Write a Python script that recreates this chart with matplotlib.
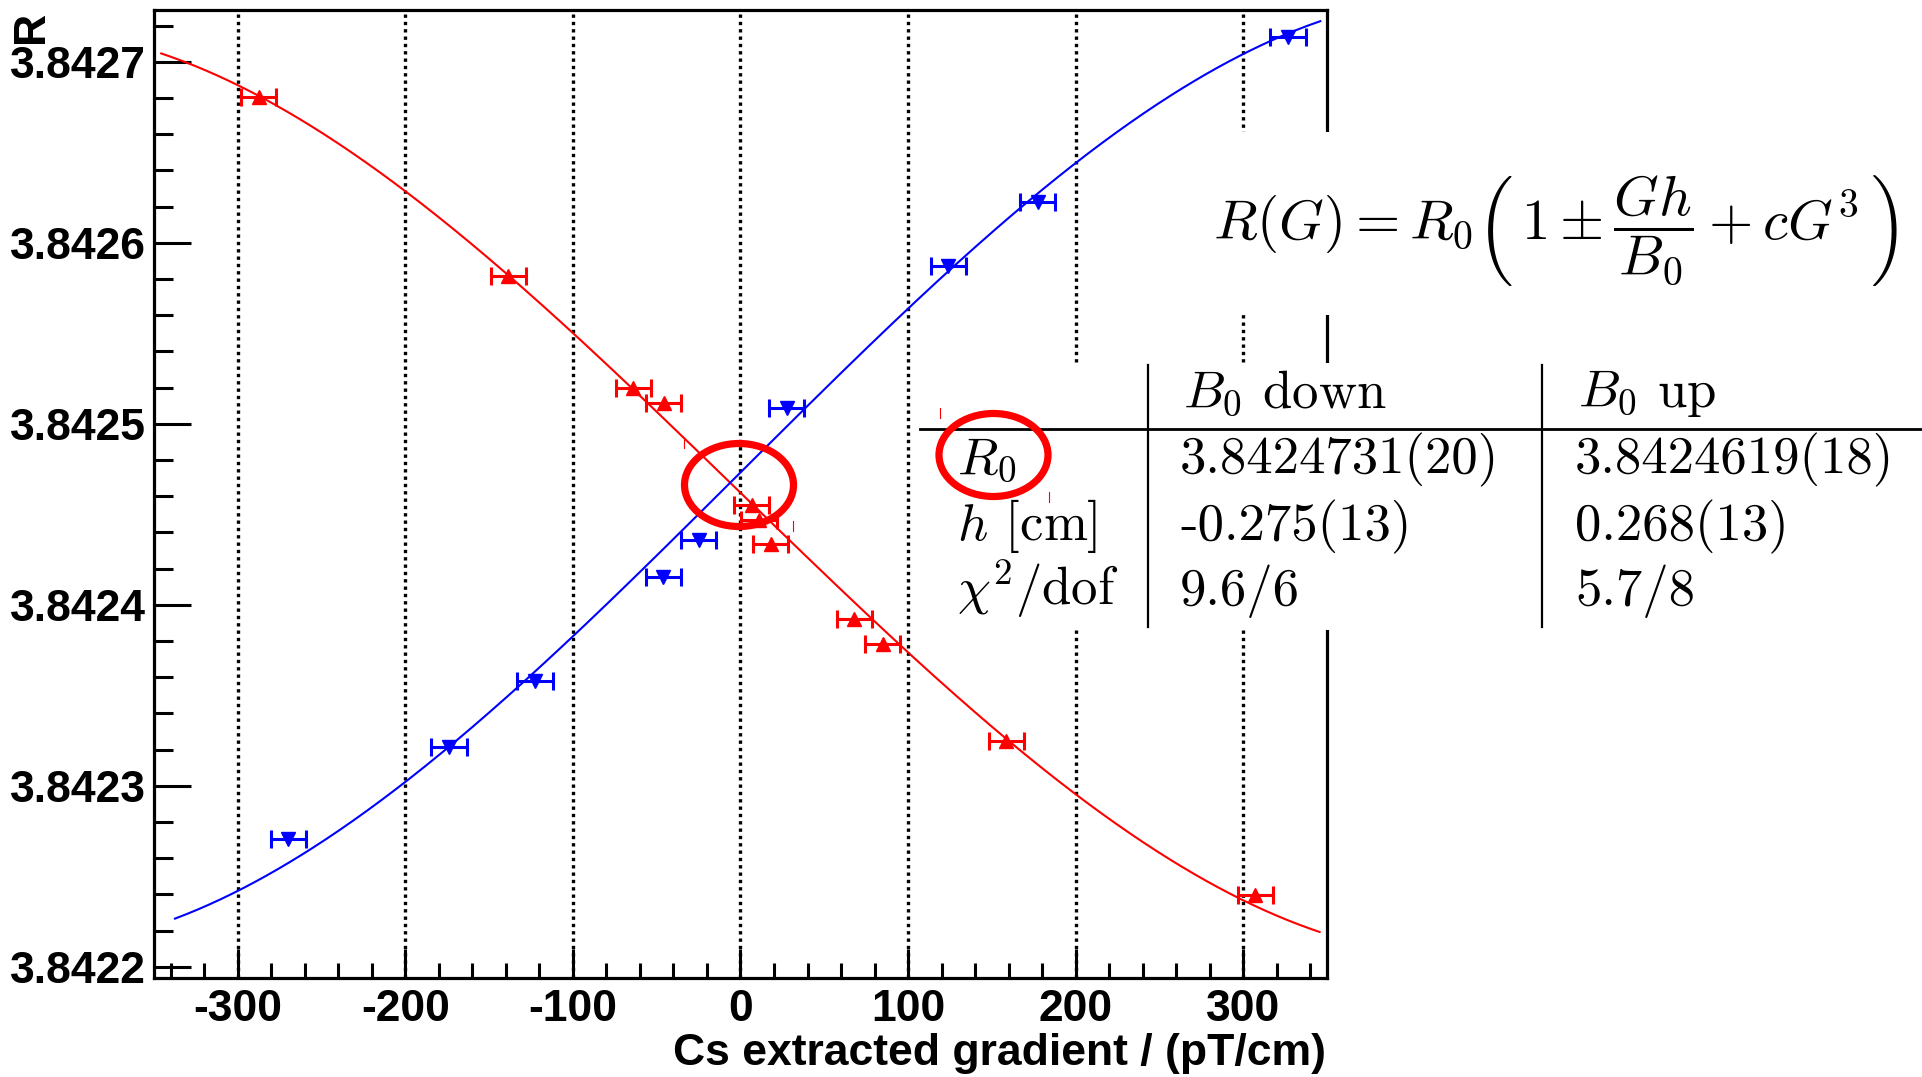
import matplotlib
matplotlib.use("Agg")
import numpy as np
import matplotlib.pyplot as plt
from matplotlib.patches import Ellipse, Rectangle
from matplotlib.lines import Line2D
from matplotlib.ticker import FixedLocator, FixedFormatter

plt.rcParams['mathtext.fontset'] = 'cm'

# ---------------- data ----------------
# B0 up (red, triangles up)
up_G = [-287.4, -138.5, -63.9, -45.8, 6.7, 11.0, 18.1, 67.8, 84.9, 158.5, 307.2]
up_R = [3.8426807, 3.8425818, 3.8425199, 3.8425113, 3.8424551, 3.8424470,
        3.8424335, 3.8423919, 3.8423781, 3.8423249, 3.8422396]
up_Gerr = [10.5] * len(up_G)

# B0 down (blue, triangles down)
down_G = [-269.9, -173.9, -122.6, -46.0, -24.9, 27.6, 124.1, 177.4, 326.7]
down_R = [3.8422704, 3.8423215, 3.8423578, 3.8424155, 3.8424357, 3.8425085,
          3.8425873, 3.8426227, 3.8427138]
down_Gerr = [10.5] * len(down_G)

# fit parameters: R(G) = R0 (1 - G h / B0 + c G^3)
B0_pT = 1.146e6
fit_down = dict(R0=3.8424731, h=-0.275, c=-4.38e-13, G_range=(-337.5, 346.0))
fit_up = dict(R0=3.8424619, h=0.268, c=4.28e-13, G_range=(-345.7, 345.6))

# axes
x_major = [-300, -200, -100, 0, 100, 200, 300]
x_labels = ["-300", "-200", "-100", "0", "100", "200", "300"]
y_major = [3.8422, 3.8423, 3.8424, 3.8425, 3.8426, 3.8427]
y_labels = ["3.8422", "3.8423", "3.8424", "3.8425", "3.8426", "3.8427"]
x_title = "Cs extracted gradient / (pT/cm)"
y_title = "R"

# table
tbl_header = [r"$B_0$ down", r"$B_0$ up"]
tbl_rows = [r"$R_0$", r"$h$ [cm]", r"$\chi^2$/dof"]
tbl_down = ["3.8424731(20)", "-0.275(13)", "9.6/6"]
tbl_up = ["3.8424619(18)", "0.268(13)", "5.7/8"]
formula = r"$R(G) = R_0\left(\,1 \pm \dfrac{Gh}{B_0} + cG^3\,\right)$"

# ---------------- figure ----------------
W, H = 1922, 1077
fig = plt.figure(figsize=(W / 100, H / 100), dpi=100)
fig.patch.set_facecolor("white")


def fx(px):
    return px / W


def fy(py):
    return 1 - py / H


ax = fig.add_axes([fx(154), fy(978), (1327 - 154) / W, (978 - 10) / H])
ax.set_xlim(-350, 350)
ax.set_ylim(3.8421938, 3.8427286)

tick_font = dict(family="Liberation Sans", weight="bold", size=32)

ax.xaxis.set_major_locator(FixedLocator(x_major))
ax.xaxis.set_major_formatter(FixedFormatter(x_labels))
ax.xaxis.set_minor_locator(FixedLocator(np.arange(-340, 341, 20)))
ax.yaxis.set_major_locator(FixedLocator(y_major))
ax.yaxis.set_major_formatter(FixedFormatter(y_labels))
ax.yaxis.set_minor_locator(FixedLocator(np.arange(3.84218, 3.84273, 0.00002)))

ax.tick_params(axis="y", which="major", direction="in", length=26.5, width=2.2, pad=6,
               left=True, right=False)
ax.tick_params(axis="y", which="minor", direction="in", length=13.5, width=2.2,
               left=True, right=False)
ax.tick_params(axis="x", which="major", direction="in", length=21, width=2.2, pad=8,
               bottom=True, top=False)
ax.tick_params(axis="x", which="minor", direction="in", length=11, width=2.2,
               bottom=True, top=False)
for lab in ax.get_xticklabels() + ax.get_yticklabels():
    lab.set_fontfamily("Liberation Sans")
    lab.set_fontweight("bold")
    lab.set_fontsize(32)

for s in ax.spines.values():
    s.set_linewidth(2.3)
    s.set_color("black")

ax.xaxis.grid(True, which="major", color="black", linestyle=(0, (1, 1.2)), linewidth=2.4)
ax.set_axisbelow(True)

# fit curves
for fit, col in ((fit_up, "red"), (fit_down, "blue")):
    G = np.linspace(fit["G_range"][0], fit["G_range"][1], 500)
    R = fit["R0"] * (1 - G * fit["h"] / B0_pT + fit["c"] * G ** 3)
    ax.plot(G, R, color=col, lw=1.5, zorder=3)

# data points with horizontal error bars
ax.errorbar(up_G, up_R, xerr=up_Gerr, fmt="^", color="red", ms=10, elinewidth=2.2,
            capsize=6.5, capthick=2.2, zorder=4)
ax.errorbar(down_G, down_R, xerr=down_Gerr, fmt="v", color="blue", ms=10, elinewidth=2.2,
            capsize=6.5, capthick=2.2, zorder=4)

# axis titles
fig.text(fx(32), fy(11), y_title, rotation=90, ha="center", va="top", **tick_font)
fig.text(fx(1326), fy(1054), x_title, ha="right", va="center", **tick_font)

# white boxes holding the formula and the table
fig.patches.append(Rectangle((fx(1150), fy(315)), (W - 1150) / W, (315 - 132) / H,
                             transform=fig.transFigure, facecolor="white",
                             edgecolor="none", zorder=5))
fig.patches.append(Rectangle((fx(915), fy(630)), (W - 915) / W, (630 - 363) / H,
                             transform=fig.transFigure, facecolor="white",
                             edgecolor="none", zorder=5))

fig.text(fx(1556), fy(230), formula, ha="center", va="center", fontsize=41, zorder=10)

cm_font = dict(family="cmr10", size=38)
rows_y = [473, 540, 605]
fig.text(fx(1183), fy(407), tbl_header[0], ha="left", va="baseline", zorder=10, **cm_font)
fig.text(fx(1578), fy(407), tbl_header[1], ha="left", va="baseline", zorder=10, **cm_font)
for lab, d, u, yy in zip(tbl_rows, tbl_down, tbl_up, rows_y):
    fig.text(fx(957), fy(yy), lab, ha="left", va="baseline", zorder=10, **cm_font)
    fig.text(fx(1180), fy(yy), d, ha="left", va="baseline", zorder=10, **cm_font)
    fig.text(fx(1575), fy(yy), u, ha="left", va="baseline", zorder=10, **cm_font)

fig.lines.append(Line2D([fx(920), 1.0], [fy(429), fy(429)], transform=fig.transFigure,
                        color="black", lw=2.0, zorder=10))
for xv in (1148, 1542):
    fig.lines.append(Line2D([fx(xv), fx(xv)], [fy(365), fy(627)], transform=fig.transFigure,
                            color="black", lw=1.6, zorder=10))

# red highlight circles
for cx, cy in ((739, 485), (993.5, 455)):
    fig.patches.append(Ellipse((fx(cx), fy(cy)), 109 / W, 83 / H, transform=fig.transFigure,
                               facecolor="none", edgecolor="red", lw=5.2, zorder=11))
# tiny red marks near the circles
for mx, my in ((684, 443), (793, 526), (940, 413), (1049, 497)):
    fig.lines.append(Line2D([fx(mx), fx(mx)], [fy(my - 5), fy(my + 5)],
                            transform=fig.transFigure, color="red", lw=0.8, zorder=11))

fig.savefig("out.png", dpi=100, facecolor="white")
